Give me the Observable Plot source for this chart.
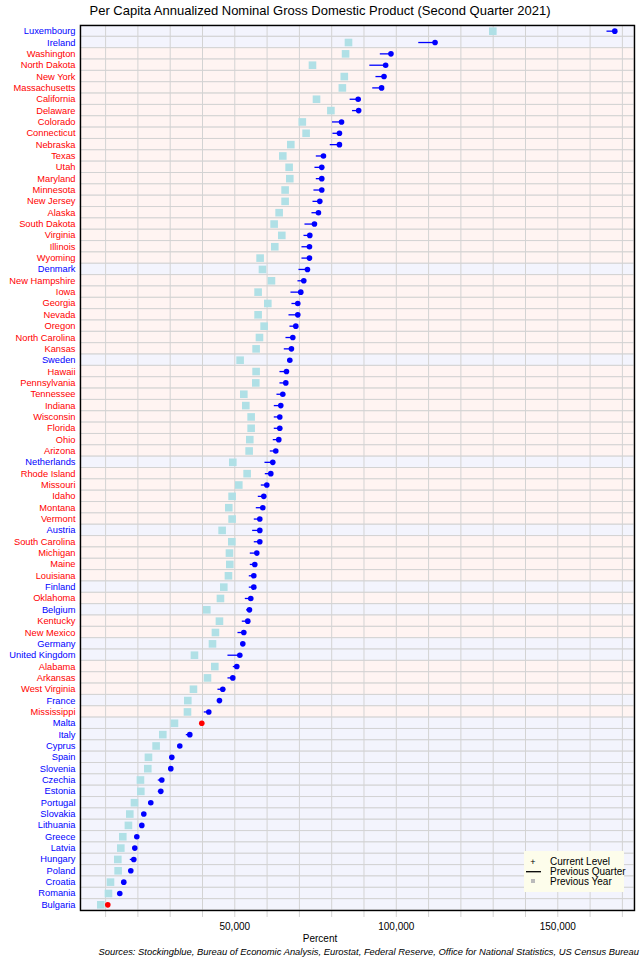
<!DOCTYPE html>
<html>
<head>
<meta charset="utf-8">
<script src="https://cdn.jsdelivr.net/npm/d3@7"></script>
<script src="https://cdn.jsdelivr.net/npm/@observablehq/plot@0.6"></script>
<style>
  body { margin: 0; background: #ffffff; font-family: "Liberation Sans", Arial, sans-serif; }
  #wrap { position: relative; width: 640px; height: 960px; overflow: hidden; background: #fff; }
  #chart { position: absolute; left: 0; top: 0; }
  #title { position: absolute; left: 0; width: 640px; top: 3px; text-align: center; font-size: 13px; color: #000; white-space: nowrap; }
  #xlabel { position: absolute; left: 0; width: 640px; top: 933px; text-align: center; font-size: 10px; line-height: 11px; color: #000; }
  #caption { position: absolute; right: 1px; top: 946px; font-size: 9.4px; line-height: 11px; font-style: italic; color: #000; white-space: nowrap; }
  #legend { position: absolute; left: 524px; top: 851px; width: 100px; height: 41px; background: #fdfdeb; font-size: 10px; }
  #legend .row { position: absolute; left: 26px; white-space: nowrap; line-height: 10px; }
  #legend svg { position: absolute; left: 0; top: 0; }
</style>
</head>
<body>
<div id="wrap">
  <div id="chart"></div>
  <div id="title"></div>
  <div id="legend"></div>
  <div id="xlabel"></div>
  <div id="caption"></div>
</div>
<script>
const titleText = "Per Capita Annualized Nominal Gross Domestic Product (Second Quarter 2021)";
const xLabelText = "Percent";
const captionText = "Sources: Stockingblue, Bureau of Economic Analysis, Eurostat, Federal Reserve, Office for National Statistics, US Census Bureau";
const legendLabels = ["Current Level", "Previous Quarter", "Previous Year"];

const regions = ["Luxembourg","Ireland","Washington","North Dakota","New York","Massachusetts","California","Delaware","Colorado","Connecticut","Nebraska","Texas","Utah","Maryland","Minnesota","New Jersey","Alaska","South Dakota","Virginia","Illinois","Wyoming","Denmark","New Hampshire","Iowa","Georgia","Nevada","Oregon","North Carolina","Kansas","Sweden","Hawaii","Pennsylvania","Tennessee","Indiana","Wisconsin","Florida","Ohio","Arizona","Netherlands","Rhode Island","Missouri","Idaho","Montana","Vermont","Austria","South Carolina","Michigan","Maine","Louisiana","Finland","Oklahoma","Belgium","Kentucky","New Mexico","Germany","United Kingdom","Alabama","Arkansas","West Virginia","France","Mississippi","Malta","Italy","Cyprus","Spain","Slovenia","Czechia","Estonia","Portugal","Slovakia","Lithuania","Greece","Latvia","Hungary","Poland","Croatia","Romania","Bulgaria"];

const countries = ["Luxembourg","Ireland","Denmark","Sweden","Netherlands","Austria","Finland","Belgium","Germany","United Kingdom","France","Malta","Italy","Cyprus","Spain","Slovenia","Czechia","Estonia","Portugal","Slovakia","Lithuania","Greece","Latvia","Hungary","Poland","Croatia","Romania","Bulgaria"];

const currentLevel = [167650,112000,98350,96700,96200,95450,88200,88350,83050,82400,82400,77450,76930,76930,76930,76320,75900,74660,73220,73120,73120,72500,71360,70430,69500,69500,68890,67960,67540,67030,66000,65790,64860,64240,63930,63930,63620,62690,61760,61150,59910,58980,58670,57740,57740,57740,56810,56190,55880,55880,54950,54540,54020,52790,52480,51550,50620,49380,46280,45250,41950,39780,36070,32970,30500,30190,27400,27090,23990,21830,21210,19660,19040,18730,17800,15630,14390,10680];

const previousQuarter = [165080,106800,94900,91650,93550,92550,85550,86300,80100,80240,79400,75080,74660,75080,74350,74050,73740,71570,71260,70640,70640,69710,69400,67230,67540,66620,66920,65690,65170,66200,63830,63830,62900,62070,62070,62070,61760,60840,59180,59290,58050,57120,56500,55880,55370,55880,54640,54640,54330,54330,53100,53510,52170,50830,51750,47730,49380,47730,44630,44650,40400,40380,34830,32370,29900,29360,26160,26160,23170,21230,20610,19060,18440,17490,17200,15030,13790,11280];

const previousYear = [129880,85200,84300,74050,83900,83300,75300,79750,70900,72080,67340,64860,66820,67030,65580,65580,63730,62180,64550,62380,57840,58570,61350,57220,60220,57220,59080,57640,56600,51650,56600,56500,52790,53410,55060,55060,54640,54440,49380,53820,51240,49170,48140,49170,46080,49070,48350,48450,48040,46590,45560,41330,45250,44010,43090,37510,43810,41540,37200,35450,35350,31320,27710,25640,23270,23060,20790,20900,18940,17490,17070,15320,14710,13780,13880,11510,10890,8510];

const xDomain = [2230, 173750];
const gridTicks = d3.range(10000, 170001, 10000);
const labelEvery = 50000;

const stateFill = "#fff4f2";
const countryFill = "#f3f4fd";
const stateText = "#ff0000";
const countryText = "#0000ff";
const gridColor = "#d3d3d3";
const upColor = "#0000ff";
const downColor = "#ff0000";
const squareColor = "#b0e0e6";

const countrySet = new Set(countries);
const data = regions.map((name, i) => ({
  name,
  isCountry: countrySet.has(name),
  cur: currentLevel[i],
  pq: previousQuarter[i],
  py: previousYear[i]
}));

const fmt = d3.format(",");

const chart = Plot.plot({
  width: 640,
  height: 936,
  marginTop: 25,
  marginBottom: 26,
  marginLeft: 80,
  marginRight: 6,
  style: { fontFamily: "Liberation Sans, Arial, sans-serif", background: "transparent" },
  x: { domain: xDomain, axis: null },
  y: { domain: regions, padding: 0, round: false, axis: null },
  color: { type: "identity" },
  marks: [
    Plot.cell(data, { y: "name", fill: d => d.isCountry ? countryFill : stateFill, stroke: gridColor, strokeWidth: 1 }),
    Plot.gridX({ ticks: gridTicks, stroke: gridColor, strokeOpacity: 1, strokeWidth: 1 }),
    Plot.axisX({ ticks: gridTicks, tickSize: 7, tickPadding: 5, stroke: gridColor, fill: "#000", fontSize: 10,
      tickFormat: d => d % labelEvery === 0 ? fmt(d) : "" }),
    Plot.dot(data, { x: "py", y: "name", symbol: "square", r: 4.3, fill: squareColor, stroke: "none" }),
    Plot.link(data, { x1: "pq", x2: "cur", y1: "name", y2: "name", stroke: upColor, strokeWidth: 1.3 }),
    Plot.dot(data, { x: "cur", y: "name", r: 2.8, fill: d => d.cur < d.pq ? downColor : upColor, stroke: "none" }),
    Plot.text(data, { y: "name", text: "name", frameAnchor: "left", textAnchor: "end", dx: -5,
      fill: d => d.isCountry ? countryText : stateText, fontSize: 9.3 }),
    Plot.frame({ stroke: "#000", strokeWidth: 1.4 })
  ]
});
document.getElementById("chart").appendChild(chart);

document.getElementById("title").textContent = titleText;
document.getElementById("xlabel").textContent = xLabelText;
document.getElementById("caption").textContent = captionText;

// legend
const lg = document.getElementById("legend");
const ns = "http://www.w3.org/2000/svg";
const sv = document.createElementNS(ns, "svg");
sv.setAttribute("width", 100); sv.setAttribute("height", 41);
const sym = [
  `<text x="9" y="13.5" font-size="9" text-anchor="middle" font-family="Liberation Sans, Arial">+</text>`,
  `<line x1="2" x2="17" y1="20.7" y2="20.7" stroke="#000" stroke-width="1.3"/>`,
  `<rect x="7" y="28" width="4" height="4" fill="#bbbbbb"/>`
];
sv.innerHTML = sym.join("");
lg.appendChild(sv);
legendLabels.forEach((t, i) => {
  const d = document.createElement("div");
  d.className = "row";
  d.style.top = (6 + i * 10) + "px";
  d.textContent = t;
  lg.appendChild(d);
});
</script>
</body>
</html>
